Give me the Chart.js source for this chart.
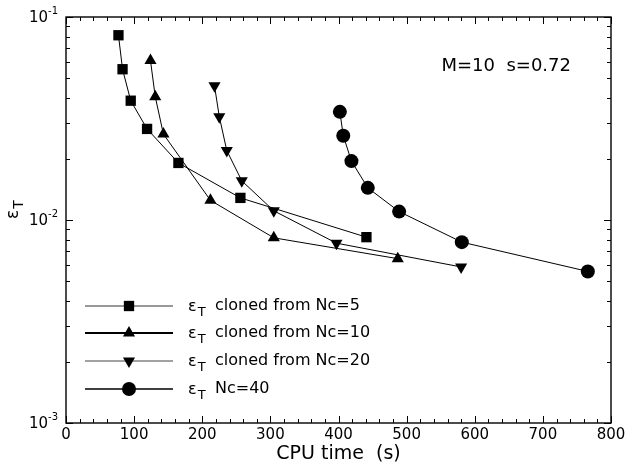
<!DOCTYPE html>
<html>
<head>
<meta charset="utf-8">
<script src="https://cdn.jsdelivr.net/npm/chart.js@4.4.1/dist/chart.umd.min.js"></script>
<style>
  html, body { margin: 0; padding: 0; background: #fff; }
  #wrap { width: 629px; height: 469px; }
</style>
</head>
<body>
<div id="wrap"><canvas id="errChart" width="629" height="469"></canvas></div>
<script>
// CPU time (s) and error for each run
const cpuNc5 = [77, 83, 95, 119, 165, 256, 441];
const errNc5 = [0.0813, 0.0553, 0.0387, 0.0281, 0.0191, 0.01285, 0.00823];
const cpuNc10 = [124, 131, 143, 212, 305, 487];
const errNc10 = [0.061, 0.0405, 0.0265, 0.0125, 0.00817, 0.00645];
const cpuNc20 = [218, 225, 236, 258, 305, 397, 580];
const errNc20 = [0.0458, 0.0323, 0.022, 0.0156, 0.0111, 0.00769, 0.00587];
const cpuNc40 = [402, 407, 419, 443, 489, 581, 766];
const errNc40 = [0.0341, 0.026, 0.0195, 0.0144, 0.011, 0.00778, 0.00558];

const seriesNames = ["cloned from Nc=5", "cloned from Nc=10", "cloned from Nc=20", "Nc=40"];
const xTicks = [0, 100, 200, 300, 400, 500, 600, 700, 800];
const yTickExps = [-3, -2, -1];

const FONT = "'DejaVu Sans', Verdana, sans-serif";

function toPoints(xs, ys) {
  return xs.map((x, i) => ({ x: x, y: ys[i] }));
}

// same shapes chart.js uses, for the legend samples
function marker(ctx, style, x, y, r) {
  ctx.beginPath();
  if (style === "rect") {
    const s = r * Math.SQRT1_2;
    ctx.rect(x - s, y - s, 2 * s, 2 * s);
  } else if (style === "circle") {
    ctx.arc(x, y, r, 0, Math.PI * 2);
  } else {
    const flip = style === "down" ? Math.PI : 0;
    for (let k = 0; k < 3; k++) {
      const a = flip + k * 2 * Math.PI / 3;
      const px = x + Math.sin(a) * r, py = y - Math.cos(a) * r;
      if (k === 0) ctx.moveTo(px, py); else ctx.lineTo(px, py);
    }
    ctx.closePath();
  }
  ctx.fill();
}

function epsT(ctx, x, y, size) {
  ctx.font = size + "px " + FONT;
  ctx.textAlign = "left";
  ctx.textBaseline = "alphabetic";
  ctx.fillText("\u03B5", x, y);
  const w = ctx.measureText("\u03B5").width;
  ctx.font = Math.round(size * 0.8) + "px " + FONT;
  ctx.fillText("T", x + w + 1, y + size * 0.3);
}

const framePlugin = {
  id: "frame",
  afterDraw(chart) {
    const ctx = chart.ctx;
    const a = chart.chartArea;
    const xs = chart.scales.x, ys = chart.scales.y;
    ctx.save();
    ctx.strokeStyle = "#000";
    ctx.fillStyle = "#000";
    ctx.lineWidth = 1.4;
    ctx.strokeRect(a.left, a.top, a.right - a.left, a.bottom - a.top);

    // inward ticks
    ctx.lineWidth = 1;
    ctx.beginPath();
    for (let v = 0; v <= 800; v += 20) {
      const px = Math.round(xs.getPixelForValue(v)) + 0.5;
      const len = v % 100 === 0 ? 7 : 4;
      ctx.moveTo(px, a.bottom); ctx.lineTo(px, a.bottom - len);
      ctx.moveTo(px, a.top); ctx.lineTo(px, a.top + len);
    }
    for (let e = -3; e < -1; e++) {
      for (let m = 1; m <= 10; m++) {
        const py = Math.round(ys.getPixelForValue(m * Math.pow(10, e))) + 0.5;
        const len = (m === 1 || m === 10) ? 7 : 4;
        ctx.moveTo(a.left, py); ctx.lineTo(a.left + len, py);
        ctx.moveTo(a.right, py); ctx.lineTo(a.right - len, py);
      }
    }
    ctx.stroke();

    // y tick labels 10^n
    yTickExps.forEach((e) => {
      const py = ys.getPixelForValue(Math.pow(10, e));
      const sup = String(e);
      ctx.font = "10px " + FONT;
      const supW = ctx.measureText(sup).width;
      ctx.font = "15px " + FONT;
      const baseW = ctx.measureText("10").width;
      const right = a.left - 8;
      ctx.textAlign = "left";
      ctx.textBaseline = "middle";
      ctx.fillText("10", right - supW - baseW, py + 1);
      ctx.font = "10px " + FONT;
      ctx.fillText(sup, right - supW, py - 6);
    });

    // y axis title, rotated
    ctx.save();
    ctx.translate(18, 210);
    ctx.rotate(-Math.PI / 2);
    epsT(ctx, -9, 0, 17);
    ctx.restore();

    // annotation
    ctx.font = "18px " + FONT;
    ctx.textAlign = "right";
    ctx.textBaseline = "middle";
    ctx.fillText("M=10  s=0.72", 571, 66);

    // legend
    const styles = ["rect", "triangle", "down", "circle"];
    const widths = [1, 1.8, 1, 1.6];
    const colors = ["#333", "#000", "#444", "#000"];
    const radii = [7.3, 7, 7, 7];
    const rowY = [306, 333, 361, 389];
    seriesNames.forEach((name, i) => {
      const y = rowY[i];
      ctx.lineWidth = widths[i];
      ctx.strokeStyle = colors[i];
      ctx.beginPath();
      ctx.moveTo(85, y); ctx.lineTo(173, y);
      ctx.stroke();
      marker(ctx, styles[i], 129, y, radii[i]);
      epsT(ctx, 188, y + 5, 16);
      ctx.font = "16px " + FONT;
      ctx.textAlign = "left";
      ctx.textBaseline = "middle";
      ctx.fillText(name, 215, y);
    });
    ctx.restore();
  }
};

function dataset(xs, ys, style, radius, rotation) {
  return {
    data: toPoints(xs, ys),
    borderColor: "#000",
    backgroundColor: "#000",
    borderWidth: 1,
    pointStyle: style,
    pointRadius: radius,
    pointRotation: rotation,
    pointBorderWidth: 0,
    pointBackgroundColor: "#000",
    tension: 0,
    fill: false,
  };
}

document.addEventListener("DOMContentLoaded", () => {
  const ctx = document.getElementById("errChart").getContext("2d");
  new Chart(ctx, {
    type: "line",
    data: {
      datasets: [
        dataset(cpuNc5, errNc5, "rect", 7.3, 0),
        dataset(cpuNc10, errNc10, "triangle", 7, 0),
        dataset(cpuNc20, errNc20, "triangle", 7, 180),
        dataset(cpuNc40, errNc40, "circle", 7, 0),
      ],
    },
    options: {
      responsive: false,
      animation: false,
      events: [],
      layout: { padding: { top: 17, right: 18, left: 0, bottom: 0 } },
      plugins: { legend: { display: false }, tooltip: { enabled: false } },
      scales: {
        x: {
          type: "linear",
          min: 0,
          max: 800,
          grid: { display: false, drawTicks: false },
          border: { display: false },
          afterBuildTicks: (s) => { s.ticks = xTicks.map((v) => ({ value: v })); },
          afterFit: (s) => { s.height = 46; },
          ticks: { color: "#000", font: { family: FONT, size: 15 }, padding: 3, maxRotation: 0 },
          title: {
            display: true,
            text: "CPU time  (s)",
            color: "#000",
            font: { family: FONT, size: 19 },
            padding: { top: 0, bottom: 4 },
          },
        },
        y: {
          type: "logarithmic",
          min: 0.001,
          max: 0.1,
          grid: { display: false, drawTicks: false },
          border: { display: false },
          ticks: { display: false },
          afterFit: (s) => { s.width = 66; },
        },
      },
    },
    plugins: [framePlugin],
  });
});
</script>
</body>
</html>
